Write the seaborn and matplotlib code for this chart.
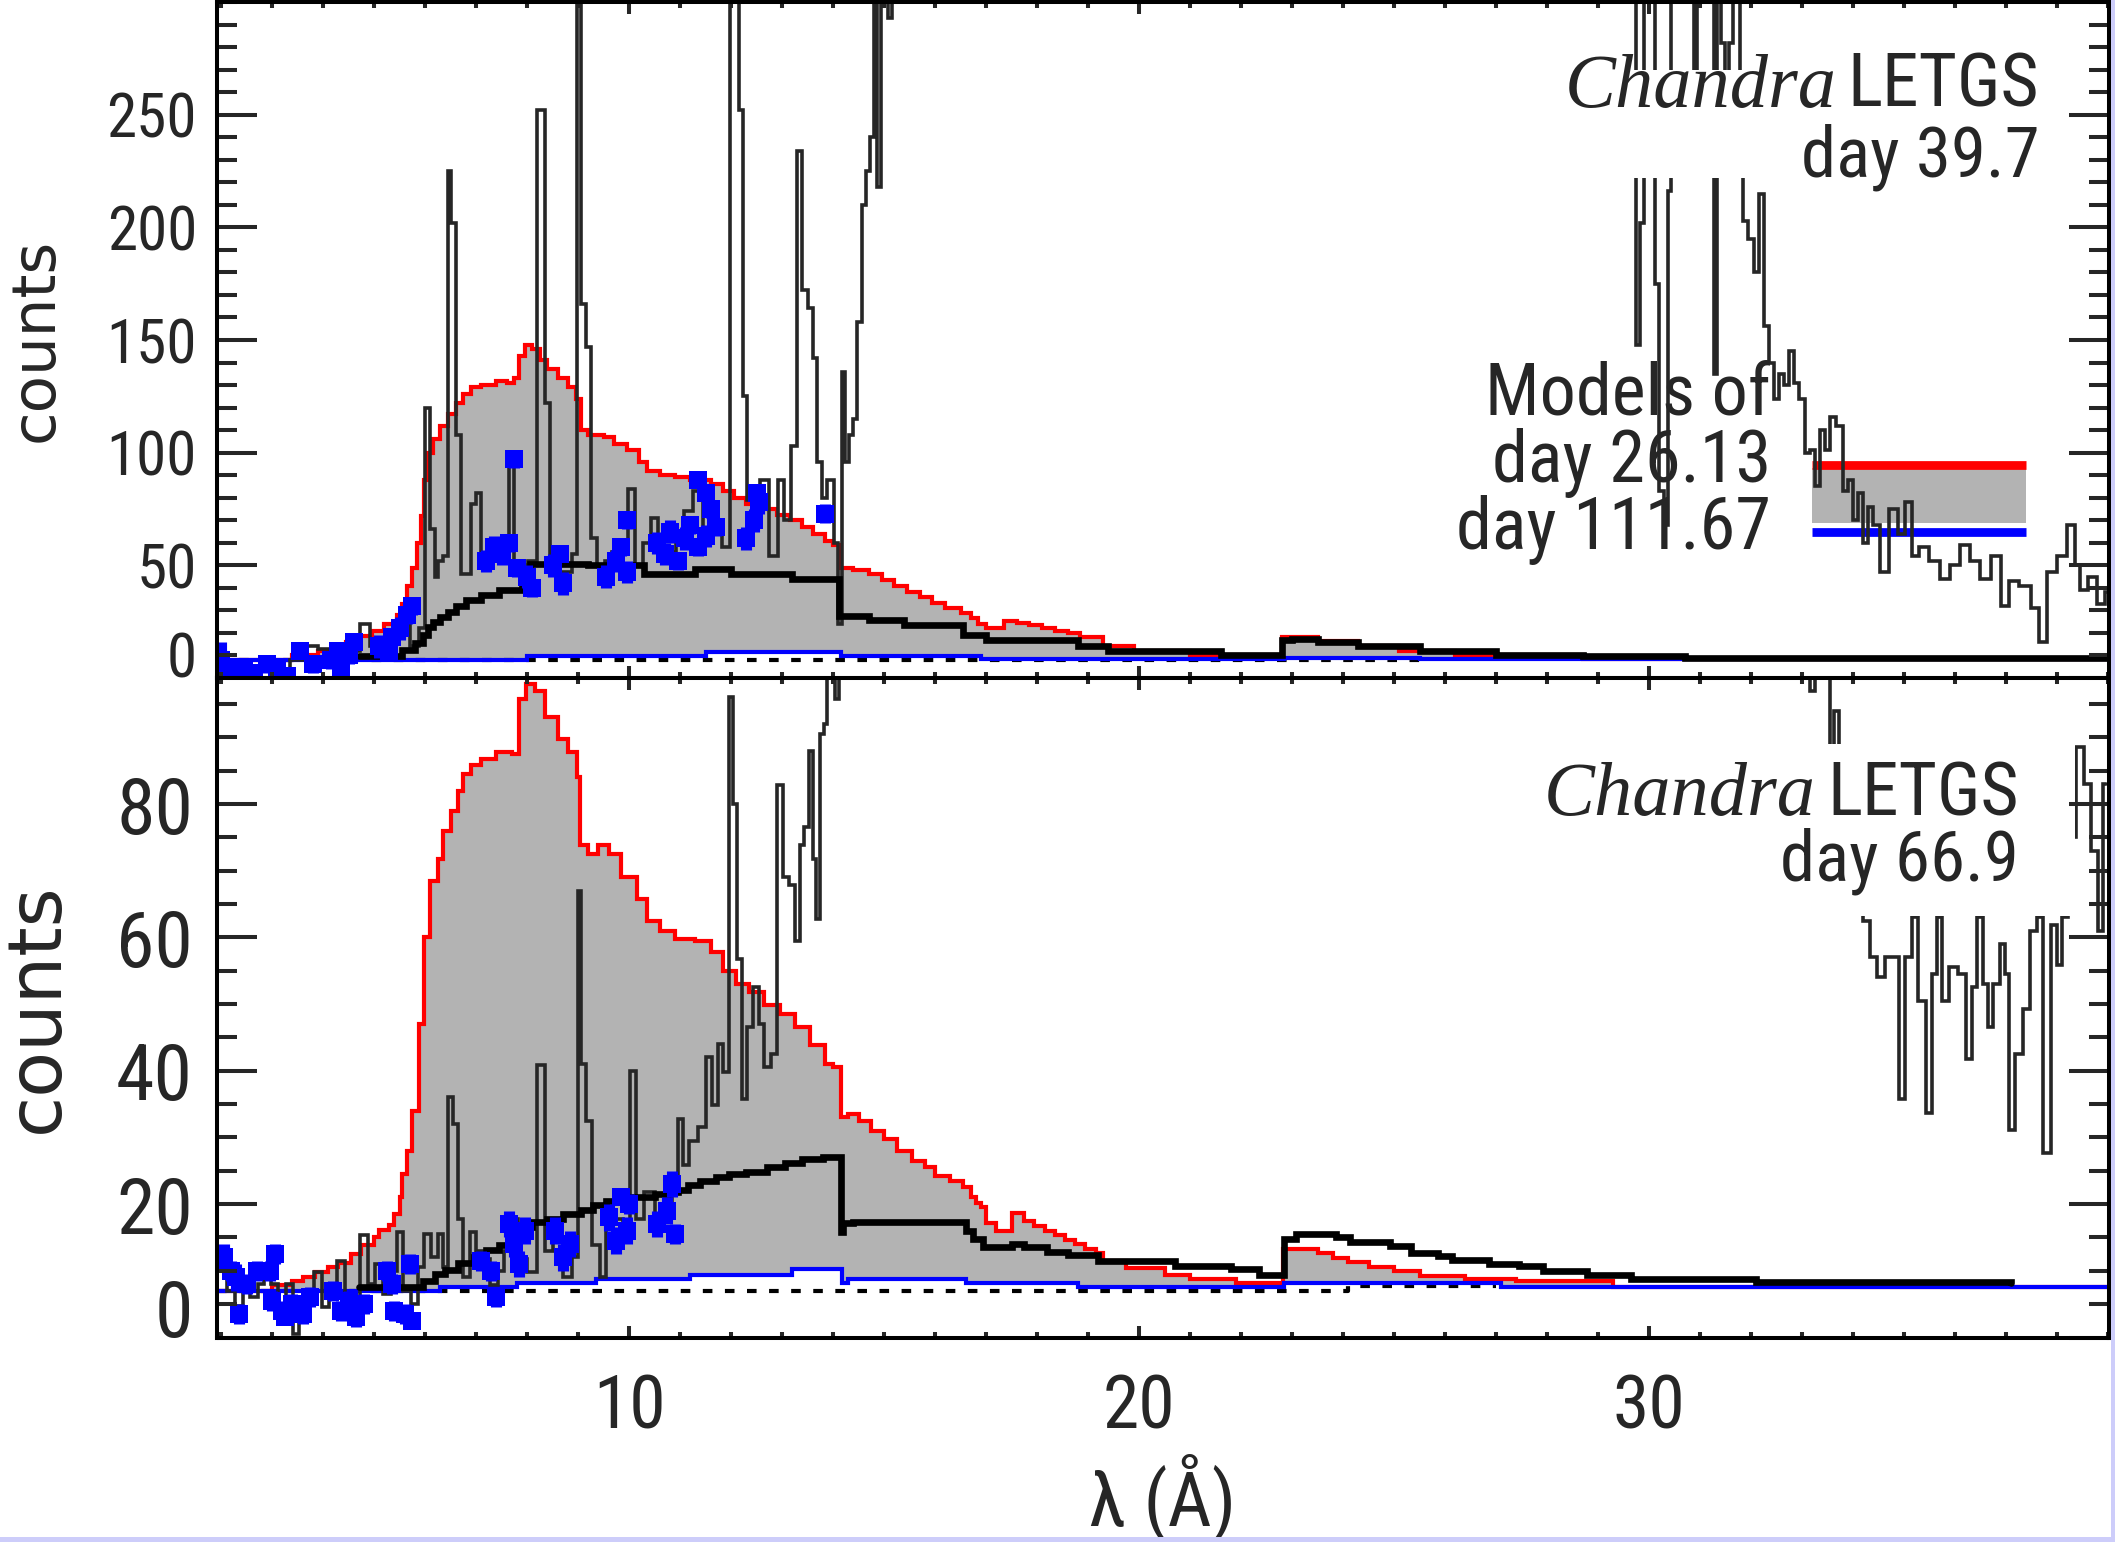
import numpy as np
import matplotlib
matplotlib.use("Agg")
import matplotlib.pyplot as plt
from matplotlib.patches import Rectangle
from matplotlib.ticker import FixedLocator, MultipleLocator
from matplotlib import font_manager as fm
import seaborn as sns

# ---------------- data ----------------
# model curves as (wavelength start, counts) steps
top_red = [(1.91, 8), (3.4, 10), (3.9, 12), (4.2, 14), (4.45, 16), (4.7, 18.5), (4.95, 21), (5.2, 24),
           (5.45, 28), (5.55, 33), (5.65, 41), (5.75, 49), (5.85, 60), (5.92, 72), (5.97, 88), (6.05, 100),
           (6.15, 106), (6.3, 112), (6.45, 117), (6.6, 122), (6.75, 126), (6.9, 129), (7.1, 130), (7.4, 132),
           (7.6, 131), (7.75, 133), (7.85, 143), (7.95, 148), (8.1, 146), (8.25, 141), (8.4, 137), (8.6, 133),
           (8.8, 129), (8.95, 124), (9.05, 110), (9.2, 108), (9.5, 107), (9.7, 104), (9.95, 101), (10.2, 96),
           (10.35, 92), (10.6, 90), (10.9, 89), (11.2, 88), (11.6, 86), (11.85, 83), (12.05, 80), (12.3, 77),
           (12.6, 75), (12.9, 72.5), (13.15, 70), (13.4, 67), (13.6, 64), (13.85, 61), (14.0, 59), (14.15, 49),
           (14.4, 48), (14.7, 46), (14.95, 43.5), (15.2, 41), (15.45, 38), (15.7, 36), (15.95, 33.5), (16.2, 31),
           (16.5, 29), (16.7, 26.5), (16.85, 24), (17.0, 22), (17.35, 25.5), (17.6, 24.5), (17.85, 23.5),
           (18.1, 22), (18.35, 21), (18.6, 20), (18.85, 18), (19.3, 14), (19.9, 12), (21.0, 10), (22.8, 18),
           (23.5, 16.3), (24.3, 14), (25.1, 12), (26.2, 10), (28.7, 8.5), (39.1, 8.5)]
top_blue = [(1.91, 7.8), (8.0, 9.6), (11.5, 11.7), (14.15, 9.6), (16.9, 8.3), (22.85, 9.0), (25.5, 8.3),
            (39.1, 8.3)]
top_black = [(4.7, 9.8), (5.55, 12.4), (5.8, 15.5), (5.95, 19), (6.05, 22.7), (6.15, 25), (6.3, 27),
             (6.45, 29.3), (6.6, 31.8), (6.8, 34.6), (7.1, 36.7), (7.45, 39), (7.9, 42), (8.0, 46),
             (8.05, 50.5), (9.2, 50), (10.3, 46), (11.3, 48.5), (12.0, 46), (13.2, 44), (14.12, 27.5),
             (14.7, 25.6), (15.4, 23.6), (16.55, 19), (17.0, 17), (18.8, 14), (19.4, 12), (21.6, 10.2),
             (22.8, 17), (23.0, 17.5), (23.5, 16), (24.3, 14), (25.5, 12), (27.0, 10.2), (28.7, 9.8),
             (30.7, 8.8), (39.1, 8.8)]
top_dotted = [(1.91, 8.0), (25.5, 8.0)]

bot_red = [(1.91, 6.9), (3.0, 7.8), (3.4, 8.5), (3.6, 9.1), (3.85, 9.8), (4.1, 10.5), (4.3, 11.1),
           (4.55, 12.5), (4.75, 13.8), (5.0, 15), (5.1, 16.1), (5.3, 16.8), (5.4, 18.5), (5.5, 21),
           (5.55, 24.5), (5.65, 28), (5.75, 34), (5.88, 47), (5.97, 60), (6.1, 68.5), (6.25, 71.8),
           (6.35, 76), (6.5, 79), (6.65, 82), (6.75, 84.5), (6.9, 85.8), (7.1, 86.8), (7.4, 87.8),
           (7.7, 87.5), (7.85, 95.8), (7.97, 98), (8.15, 97), (8.35, 93), (8.6, 89.8), (8.8, 87.8),
           (8.97, 84), (9.03, 73.8), (9.2, 72.5), (9.4, 73.8), (9.6, 72.5), (9.85, 69), (10.15, 65.8),
           (10.35, 62.5), (10.6, 61), (10.9, 59.8), (11.3, 59.5), (11.6, 57.8), (11.85, 55), (12.1, 53),
           (12.35, 51.8), (12.65, 49.8), (12.95, 48.5), (13.25, 46.5), (13.55, 43.8), (13.85, 41),
           (14.0, 40.5), (14.15, 33), (14.3, 33.5), (14.5, 32.5), (14.75, 31), (15.0, 29.8), (15.25, 28),
           (15.55, 26.4), (15.8, 25.5), (16.0, 24.2), (16.3, 23.5), (16.55, 22.5), (16.7, 21), (16.8, 20.2),
           (16.9, 19.5), (17.0, 17.2), (17.2, 16), (17.5, 18.7), (17.75, 17.5), (17.95, 16.7), (18.15, 16),
           (18.35, 15.3), (18.55, 14.6), (18.75, 14), (18.95, 13.2), (19.15, 12.7), (19.3, 11.4),
           (19.75, 10.4), (20.5, 9.4), (21.0, 8.8), (21.9, 8.2), (22.82, 13.2), (23.5, 12.7), (23.8, 11.9),
           (24.1, 11.3), (24.5, 10.6), (25.0, 9.9), (25.5, 9.2), (26.4, 8.8), (27.4, 8.4), (29.3, 7.6),
           (39.1, 7.6)]
bot_blue = [(1.91, 6.9), (6.3, 7.5), (7.8, 8.2), (9.35, 8.8), (11.2, 9.4), (13.2, 10.2), (14.17, 8.2),
            (14.3, 8.8), (16.6, 8.2), (18.8, 7.6), (22.85, 8.2), (27.1, 7.6), (39.1, 7.6)]
bot_black = [(4.7, 7.5), (5.95, 8.5), (6.2, 9.5), (6.4, 10.1), (6.65, 11.1), (6.95, 12.1), (7.2, 13.1),
             (7.45, 13.8), (7.7, 14.8), (7.9, 16.5), (8.1, 17.3), (8.4, 17.8), (8.7, 18.5), (9.05, 19.1),
             (9.3, 19.8), (9.55, 20.5), (9.85, 21.1), (10.5, 21.5), (10.75, 21.8), (10.95, 22.1),
             (11.15, 22.8), (11.4, 23.5), (11.7, 24.1), (11.95, 24.5), (12.3, 24.8), (12.7, 25.5),
             (13.05, 26.1), (13.4, 26.8), (13.8, 27.1), (14.15, 15.8), (14.2, 17.1), (14.4, 17.3),
             (16.6, 16.0), (16.75, 14.8), (16.95, 13.5), (17.5, 14.0), (17.75, 13.5), (18.2, 12.8),
             (18.6, 12.3), (19.2, 11.5), (20.7, 10.7), (21.8, 10.2), (22.35, 9.4), (22.85, 14.7),
             (23.08, 15.5), (23.87, 15.0), (24.14, 14.3), (24.93, 13.7), (25.33, 12.7), (25.86, 12.2),
             (26.13, 11.6), (26.86, 11.0), (27.45, 10.7), (27.92, 10.0), (28.78, 9.3), (29.64, 8.8),
             (32.1, 8.3), (37.1, 8.2)]
bot_dotted = [(1.91, 7.0), (24.1, 7.7), (27.0, 7.7)]

# Chandra LETGS spectra (wavelength, counts); values above the frame run off the top
top_data = [(2.0, 4), (2.3, 6), (2.6, 3), (2.9, 5), (3.2, 4), (3.5, 8), (3.75, 14), (4.05, 13), (4.3, 11),
            (4.6, 12), (4.85, 24), (5.0, 14), (5.2, 17), (5.4, 20), (5.6, 25), (5.8, 14), (5.95, 22),
            (6.05, 120), (6.15, 66), (6.22, 45), (6.3, 52), (6.4, 54), (6.48, 225), (6.55, 202), (6.65, 108),
            (6.75, 46), (6.85, 46), (6.95, 77), (7.05, 82), (7.15, 54), (7.3, 54), (7.45, 56), (7.6, 60),
            (7.7, 99), (7.8, 50), (7.95, 50), (8.1, 52), (8.3, 252), (8.4, 122), (8.5, 54), (8.65, 47),
            (8.8, 47), (8.95, 55), (9.02, 400), (9.1, 166), (9.2, 147), (9.3, 62), (9.45, 50), (9.6, 52),
            (9.75, 56), (9.9, 60), (10.05, 84), (10.2, 50), (10.35, 60), (10.5, 71), (10.65, 54), (10.85, 56),
            (11.0, 62), (11.15, 74), (11.35, 83), (11.55, 60), (11.75, 70), (11.9, 58), (12.05, 400),
            (12.13, 400), (12.2, 252), (12.27, 125), (12.35, 79), (12.5, 77), (12.65, 88), (12.85, 54),
            (12.98, 88), (13.1, 70), (13.25, 103), (13.35, 234), (13.45, 172), (13.55, 164), (13.65, 142),
            (13.73, 96), (13.83, 80), (13.95, 88), (14.07, 60), (14.14, 24), (14.2, 136), (14.27, 96),
            (14.35, 108), (14.43, 115), (14.52, 158), (14.6, 210), (14.68, 225), (14.76, 240), (14.84, 400),
            (14.9, 218), (14.97, 400), (15.05, 400), (15.12, 293), (15.2, 400), (29.7, 400), (29.8, 148),
            (29.86, 202), (29.93, 400), (30.08, 400), (30.15, 175), (30.25, 83), (30.33, 68), (30.4, 216),
            (30.47, 400), (30.85, 400), (30.92, 245), (30.98, 400), (31.24, 400), (31.3, 135), (31.36, 400),
            (31.45, 282), (31.52, 240), (31.6, 282), (31.68, 400), (31.76, 400), (31.82, 240), (31.88, 203),
            (32.0, 195), (32.1, 180), (32.2, 215), (32.3, 156), (32.4, 140), (32.5, 124), (32.6, 135),
            (32.7, 130), (32.8, 145), (32.9, 131), (33.0, 124), (33.1, 100), (33.2, 101), (33.3, 85),
            (33.4, 110), (33.5, 101), (33.6, 116), (33.75, 112), (33.85, 83), (33.95, 88), (34.05, 70),
            (34.15, 82), (34.25, 60), (34.35, 76), (34.45, 68), (34.6, 47), (34.8, 75), (34.95, 64),
            (35.1, 78), (35.2, 54), (35.4, 58), (35.6, 52), (35.8, 44), (36.0, 50), (36.2, 59), (36.4, 52),
            (36.6, 44), (36.8, 54), (37.0, 32), (37.1, 43), (37.4, 41), (37.6, 31), (37.7, 16), (37.9, 47),
            (38.1, 54), (38.3, 68), (38.4, 50), (38.5, 39), (38.7, 45), (38.85, 33), (39.05, 38)]
bot_data = [(2.05, 9), (2.2, 7), (2.35, 4.7), (2.5, 7.5), (2.65, 6), (2.8, 8), (2.9, 10.6), (3.05, 8),
            (3.2, 4.2), (3.35, 8), (3.47, 0.5), (3.6, 6), (3.75, 5), (3.9, 9.8), (4.05, 4.5), (4.2, 6),
            (4.35, 11.5), (4.5, 6.5), (4.65, 5), (4.8, 15.4), (4.95, 8), (5.1, 11), (5.25, 6.5), (5.4, 10),
            (5.5, 15.8), (5.65, 7), (5.8, 5), (5.92, 10.6), (6.05, 15.5), (6.2, 12), (6.3, 15.5), (6.4, 10.5),
            (6.5, 36), (6.6, 32), (6.7, 17.8), (6.8, 9), (6.95, 15.8), (7.05, 13), (7.2, 11.8), (7.35, 7.8),
            (7.5, 10), (7.6, 13), (7.75, 17.8), (7.9, 11.8), (8.1, 9.8), (8.3, 40.8), (8.42, 13), (8.6, 14.5),
            (8.8, 9), (8.95, 12), (9.03, 67), (9.1, 41), (9.2, 32.5), (9.35, 13.8), (9.5, 9), (9.6, 17),
            (9.8, 17.8), (9.95, 15), (10.07, 40), (10.2, 17.8), (10.4, 21.8), (10.6, 18.5), (10.8, 19.8),
            (10.9, 22), (11.0, 32.8), (11.1, 25.8), (11.25, 29.5), (11.45, 31.5), (11.55, 42), (11.7, 34.8),
            (11.8, 44), (11.9, 39.8), (12.0, 96), (12.08, 80), (12.17, 56.8), (12.27, 35.8), (12.37, 46.5),
            (12.5, 52.5), (12.6, 47), (12.7, 40.5), (12.85, 42.5), (12.97, 82.8), (13.07, 69), (13.2, 67.8),
            (13.3, 59.5), (13.4, 73.8), (13.48, 76.5), (13.56, 88), (13.65, 71.8), (13.7, 62.8), (13.78, 90.5),
            (13.85, 92), (13.92, 99.5), (14.0, 150), (14.07, 95.8), (14.15, 150), (33.1, 150), (33.2, 97),
            (33.3, 150), (33.5, 150), (33.58, 80), (33.68, 94), (33.78, 80), (33.9, 75), (34.05, 80),
            (34.15, 75), (34.25, 62.5), (34.4, 57), (34.55, 54), (34.7, 57), (34.85, 57), (34.95, 35.7),
            (35.1, 57), (35.2, 63), (35.35, 50.5), (35.5, 33.7), (35.6, 54.5), (35.7, 63), (35.8, 50.5),
            (35.95, 55.5), (36.15, 54.5), (36.3, 41.8), (36.38, 52.5), (36.5, 63), (36.6, 53), (36.7, 46.5),
            (36.8, 53), (36.95, 59), (37.02, 54.5), (37.1, 31.1), (37.25, 42.5), (37.4, 49.2), (37.55, 61),
            (37.65, 63), (37.8, 27.7), (37.95, 61.8), (38.05, 55.8), (38.15, 63), (38.3, 75), (38.45, 88.6),
            (38.6, 83), (38.75, 73), (38.85, 61), (38.97, 83)]

# blue binned points (wavelength, counts, error)
top_pts = [(2.0, 8, 8), (2.2, 3, 4), (2.45, 5, 4), (2.65, 2, 4), (2.9, 6, 4), (3.1, 3, 4), (3.3, 1, 4),
           (3.55, 12, 3), (3.8, 6, 4), (4.15, 8, 4), (4.35, 3, 4), (4.3, 12, 3), (4.6, 16, 3), (4.5, 10, 4),
           (5.1, 14, 5), (5.3, 12, 3), (5.35, 18, 4), (5.5, 22, 5), (5.65, 28, 4), (5.75, 32, 4),
           (7.2, 52, 5), (7.35, 58, 5), (7.5, 55, 5), (7.65, 60, 4), (7.8, 49, 4), (7.75, 97, 4),
           (8.0, 45, 5), (8.1, 40, 4), (8.5, 50, 5), (8.7, 42, 5), (8.65, 55, 3), (9.55, 45, 5),
           (9.75, 52, 5), (9.85, 58, 4), (9.95, 47, 5), (9.95, 70, 4), (10.55, 60, 5), (10.7, 55, 5),
           (10.8, 65, 5), (10.95, 52, 4), (11.1, 62, 5), (11.2, 68, 4), (11.35, 58, 4), (11.5, 63, 5),
           (11.6, 75, 4), (11.7, 67, 4), (11.35, 88, 3), (11.5, 82, 3), (12.3, 62, 5), (12.45, 70, 5),
           (12.55, 78, 5), (12.5, 82, 4), (13.85, 73, 4)]
bot_pts = [(2.05, 12, 2), (2.2, 10, 1.5), (2.3, 9, 2), (2.5, 8, 1.5), (2.7, 10, 1.5), (2.35, 3.5, 1.5),
           (3.05, 12.5, 1.5), (2.95, 10, 1.5), (3.0, 5.5, 1.5), (3.2, 4, 1.5), (3.4, 5, 1.5), (3.6, 3.5, 1.5),
           (3.75, 6, 1.5), (3.25, 3, 1), (4.2, 7, 1.5), (4.35, 4, 1.5), (4.5, 5.5, 1.5), (4.65, 3, 1.5),
           (4.8, 5, 1.5), (5.25, 10, 1.5), (5.35, 8, 1.5), (5.4, 4, 1.5), (5.6, 3.5, 1.5), (5.75, 2.5, 1),
           (5.7, 11, 1.5), (7.1, 11.5, 1.5), (7.3, 10, 1.5), (7.4, 6, 1.5), (7.65, 17, 2), (7.75, 14, 2),
           (7.85, 11, 2), (7.95, 16, 2), (8.55, 16, 2), (8.7, 12, 2), (8.85, 14, 2), (9.6, 18, 2),
           (9.75, 14.5, 2), (9.95, 16, 2), (10.0, 20, 1.5), (9.85, 21, 1), (10.55, 17, 2), (10.75, 19, 2),
           (10.85, 23, 2), (10.9, 15.5, 1.5)]

top_yticks = [0, 50, 100, 150, 200, 250]
bot_yticks = [0, 20, 40, 60, 80]
x_ticks = [10, 20, 30]
x_ticklabels = ["10", "20", "30"]
top_texts = {"italic": "Chandra", "instr": "LETGS", "day": "day 39.7"}
bot_texts = {"italic": "Chandra", "instr": "LETGS", "day": "day 66.9"}
model_texts = ["Models of", "day 26.13", "day 111.67"]

# ---------------- style ----------------
sns.set_style("white")


def pick_narrow_font():
    preferred = ["Liberation Sans Narrow", "Arial Narrow", "DejaVu Sans Condensed", "Roboto Condensed",
                 "Open Sans Condensed", "Noto Sans Condensed"]
    names = {f.name for f in fm.fontManager.ttflist}
    for p in preferred:
        if p in names:
            return p, "normal"
    for f in fm.fontManager.ttflist:
        st = f.stretch
        cond = (isinstance(st, str) and "condensed" in st) or (isinstance(st, (int, float)) and st < 500)
        if cond and f.style == "normal" and f.weight in (400, "normal", "regular", "book") \
                and "Mono" not in f.name and "Serif" not in f.name and "CJK" not in f.name:
            return f.name, st
    for f in fm.fontManager.ttflist:
        if ("Narrow" in f.name or "Condensed" in f.name) and f.style == "normal":
            return f.name, "normal"
    return None, "normal"


NARROW, STRETCH = pick_narrow_font()
if NARROW is None:
    NARROW, K = "Liberation Sans", 0.9
else:
    K = 1.0
plt.rcParams["font.family"] = [NARROW, "DejaVu Sans"]
plt.rcParams["font.stretch"] = STRETCH

RED, BLUE, GRAY, DATA = "#ff0000", "#0000ff", "#b3b3b3", "#262626"

W, H = 2115, 1542
fig = plt.figure(figsize=(W / 100, H / 100), dpi=100)
L = 216.5 / W
AW = (2109 - 216.5) / W
ax1 = fig.add_axes([L, (H - 678) / H, AW, (678 - 2) / H])
ax2 = fig.add_axes([L, (H - 1337.5) / H, AW, (1337.5 - 678) / H])


def xy(pairs):
    a = np.array(pairs, dtype=float)
    return a[:, 0], a[:, 1]


def step_eval(xs, ys, grid):
    idx = np.clip(np.searchsorted(xs, grid, side="right") - 1, 0, len(xs) - 1)
    return ys[idx]


def line(ax, pairs, color, lw, z, style):
    x, y = xy(pairs)
    sns.lineplot(x=x, y=y, ax=ax, color=color, linewidth=lw, drawstyle=style, estimator=None,
                 sort=False, errorbar=None, zorder=z, legend=False, solid_joinstyle="miter")


def panel(ax, red, blue, black, dotted, data, pts):
    rx, ry = xy(red)
    bx, by = xy(blue)
    grid = np.union1d(rx, bx)
    r = step_eval(rx, ry, grid)
    b = step_eval(bx, by, grid)
    ax.fill_between(grid, b, np.maximum(r, b), step="post", color=GRAY, lw=0, zorder=1)
    dx, dy = xy(dotted)
    ax.plot(dx, dy, color="black", lw=3.0, linestyle=(0, (2.3, 3.0)), drawstyle="steps-post",
            dash_capstyle="butt", zorder=2)
    line(ax, red, RED, 3.0, 2.5, "steps-post")
    line(ax, blue, BLUE, 3.0, 2.6, "steps-post")
    line(ax, data, DATA, 2.6, 3, "steps-mid")
    line(ax, black, "black", 4.8, 4, "steps-post")
    p = np.array(pts, dtype=float)
    ax.errorbar(p[:, 0], p[:, 1], yerr=p[:, 2], fmt="none", ecolor=BLUE, elinewidth=8, capsize=0, zorder=6)
    sns.scatterplot(x=p[:, 0], y=p[:, 1], ax=ax, color=BLUE, s=150, marker="s", linewidth=0, zorder=6,
                    legend=False)


panel(ax1, top_red, top_blue, top_black, top_dotted, top_data, top_pts)
panel(ax2, bot_red, bot_blue, bot_black, bot_dotted, bot_data, bot_pts)

# white boxes behind the labels
ax1.add_patch(Rectangle((28.5, 221.7), 9.85, 48.1, facecolor="white", edgecolor="none", zorder=7))
ax2.add_patch(Rectangle((28.0, 63.2), 10.35, 25.8, facecolor="white", edgecolor="none", zorder=7))

# models key in the top panel
ax1.add_patch(Rectangle((33.2, 68.9), 4.2, 24.1, facecolor=GRAY, edgecolor="none", zorder=1.5))
ax1.plot([33.2, 37.4], [94.7, 94.7], color=RED, lw=6.3, solid_capstyle="butt", zorder=1.6)
ax1.plot([33.2, 37.4], [65.0, 65.0], color=BLUE, lw=6.3, solid_capstyle="butt", zorder=1.6)

renderer = fig.canvas.get_renderer()


def title(ax, x, y_title, y_day, texts):
    t = ax.text(x, y_title, texts["instr"], ha="right", va="baseline", fontsize=53 * K, zorder=8)
    bb = t.get_window_extent(renderer)
    x_left = ax.transData.inverted().transform((bb.x0 - 11, bb.y0))[0]
    ax.text(x_left, y_title, texts["italic"], ha="right", va="baseline", fontsize=55 * K,
            family=["Liberation Serif", "DejaVu Serif"], style="italic", zorder=8)
    ax.text(x, y_day, texts["day"], ha="right", va="baseline", fontsize=51 * K, zorder=8)


for ax, ylim in [(ax1, (0, 300)), (ax2, (0, 98.9))]:
    ax.set_xlim(1.91, 39.02)
    ax.set_ylim(*ylim)

title(ax1, 37.65, 253.6, 222.7, top_texts)
title(ax2, 37.25, 78.3, 68.6, bot_texts)
for txt, yb in zip(model_texts, [117, 87.2, 57.3]):
    ax1.text(32.39, yb, txt, ha="right", va="baseline", fontsize=52 * K, zorder=8)

# ---------------- axes ----------------
for ax, yt, ymin, ylfs, ypad in [(ax1, top_yticks, 10, 44 * K, 14),
                                 (ax2, bot_yticks, 5, 56 * K, 17)]:
    ax.xaxis.set_major_locator(FixedLocator(x_ticks))
    ax.xaxis.set_minor_locator(MultipleLocator(1))
    ax.yaxis.set_major_locator(FixedLocator(yt))
    ax.yaxis.set_minor_locator(MultipleLocator(ymin))
    ax.set_yticklabels([""] + [str(v) for v in yt[1:]], fontsize=ylfs)
    ax.tick_params(axis="x", which="major", direction="in", length=8.6, width=2.9, top=True, bottom=True,
                   pad=25, labelsize=53 * K)
    ax.tick_params(axis="x", which="minor", direction="in", length=4.3, width=2.9, top=True, bottom=True)
    ax.tick_params(axis="y", which="major", direction="in", length=29, width=2.9, left=True, right=True,
                   pad=ypad)
    ax.tick_params(axis="y", which="minor", direction="in", length=14.4, width=2.9, left=True, right=True)
    for s in ax.spines.values():
        s.set_linewidth(2.9)
        s.set_color("black")
        s.set_zorder(20)
    ax.xaxis.set_zorder(15)
    ax.yaxis.set_zorder(15)
    ax.annotate("0", xy=(0, 0), xycoords=("axes fraction", "data"), xytext=(-ypad, 0),
                textcoords="offset points", ha="right", va="baseline", fontsize=ylfs,
                annotation_clip=False)

ax1.tick_params(axis="x", labelbottom=False)
ax2.set_xticklabels(x_ticklabels)

ax1.set_ylabel("counts", fontsize=44, family=["DejaVu Sans"])
ax1.yaxis.set_label_coords(-0.0951, 0.5)
ax1.yaxis.label.set_va("center")
ax2.set_ylabel("counts", fontsize=54, family=["DejaVu Sans"])
ax2.yaxis.set_label_coords(-0.0946, 0.5)
ax2.yaxis.label.set_va("center")
ax1.set_xlabel("")
ax2.set_xlabel("λ (Å)", fontsize=55 * K)
ax2.xaxis.set_label_coords(0.5, -0.243)
ax2.xaxis.label.set_va("center")

# thin lavender frame strips at the right and bottom edges
fig.add_artist(Rectangle((2111 / W, 0), 4 / W, 1, transform=fig.transFigure, facecolor="#cdcdfa",
                         edgecolor="none", zorder=30))
fig.add_artist(Rectangle((0, 0), 1, 5 / H, transform=fig.transFigure, facecolor="#cdcdfa",
                         edgecolor="none", zorder=30))

fig.savefig("out.png", dpi=100)
